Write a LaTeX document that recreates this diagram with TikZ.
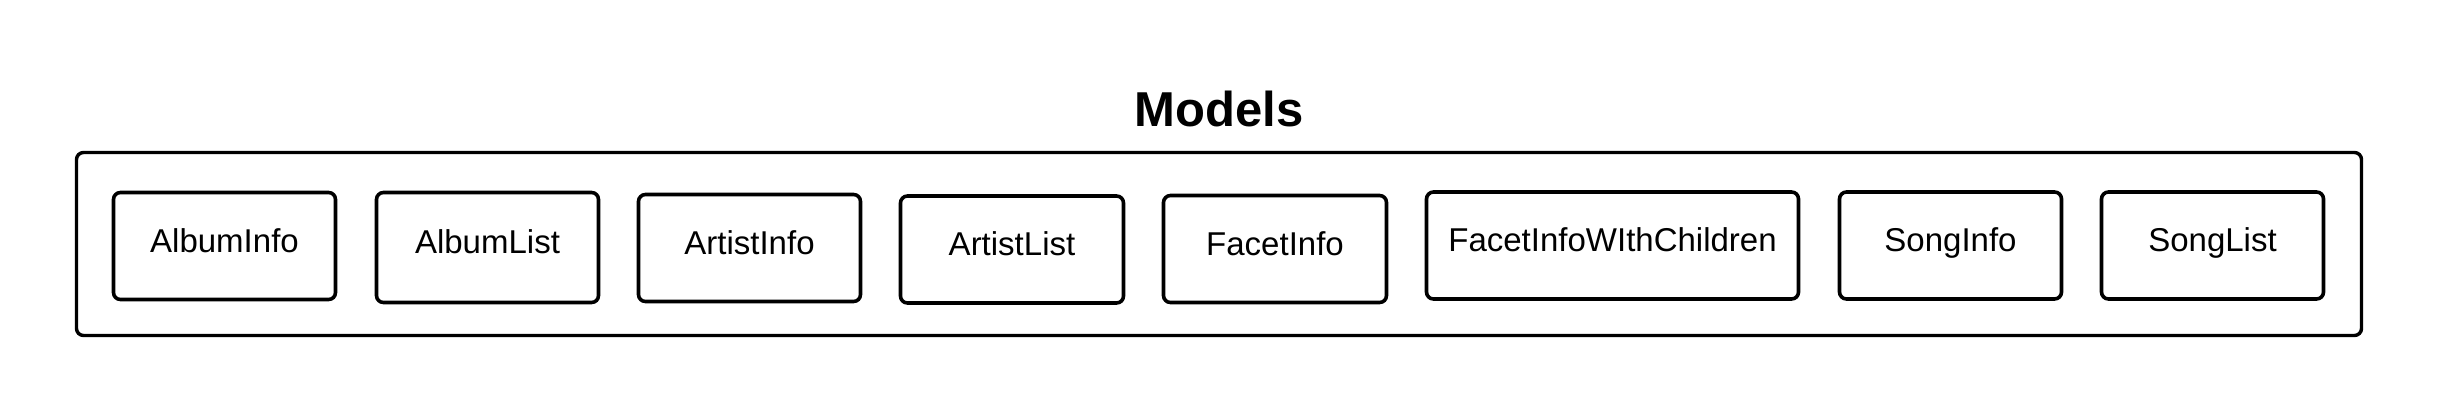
\documentclass[tikz,border=0pt]{standalone}
\usepackage{fontspec}
\setmainfont{Liberation Sans}
\begin{document}
\begin{tikzpicture}[x=0.5pt,y=-0.5pt,
  mbox/.style={draw=black, line width=1.8pt, rounded corners=3.5pt,
    minimum height=53.5pt, inner sep=0pt,
    font=\fontsize{16.5}{19}\selectfont, text height=11.8pt, text depth=5.8pt},
  outerbox/.style={draw=black, line width=1.7pt, rounded corners=3.5pt,
    minimum width=1142.5pt, minimum height=91.5pt, inner sep=0pt},
  titletext/.style={font=\bfseries\fontsize{24.5}{28}\selectfont, inner sep=0pt, anchor=base}
]
\useasboundingbox (0,0) rectangle (2438,413);
\fill[white] (0,0) rectangle (2438,413);
\node[titletext] (title) at (1219,126) {Models};
\node[outerbox] (models) at (1219,244) {};
\node[mbox, minimum width=111pt] (albuminfo)  at (224.5,246)  {AlbumInfo};
\node[mbox, minimum width=111pt, minimum height=55pt] (albumlist)  at (487.5,247.5) {AlbumList};
\node[mbox, minimum width=111pt, minimum height=53.5pt] (artistinfo) at (749.5,248)  {ArtistInfo};
\node[mbox, minimum width=111.5pt] (artistlist) at (1012,249.5) {ArtistList};
\node[mbox, minimum width=111.5pt] (facetinfo)  at (1275,249)  {FacetInfo};
\node[mbox, minimum width=186pt] (facetchildren) at (1612.5,245.5) {FacetInfoWIthChildren};
\node[mbox, minimum width=111pt] (songinfo)   at (1950.5,245.5) {SongInfo};
\node[mbox, minimum width=111pt] (songlist)   at (2212.5,245.5) {SongList};
\end{tikzpicture}
\end{document}
